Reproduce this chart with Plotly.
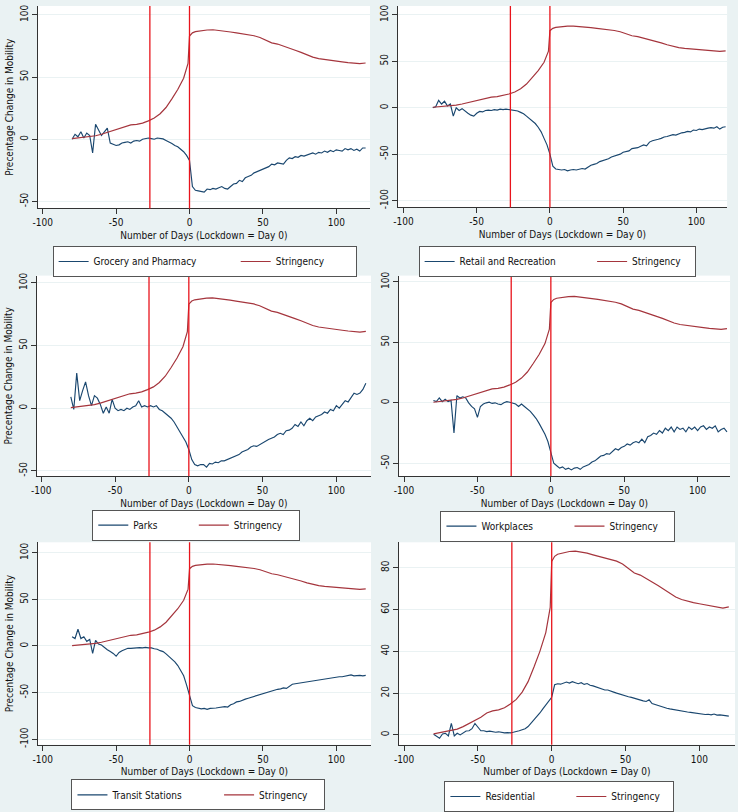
import plotly.graph_objects as go

# ---------------- data ----------------
days = list(range(-80, 121, 2))

grocery = [
    0, 4, 2, 6, 1, 5, 3, -11, 12, 7,
    3, 6, 9, -3, -4, -5, -4.5, -3, -2.5, -2,
    -3, -1.5, -1, -1.5, 0, 0.5, 1, 0.5, 0, 1,
    0.5, 0.3, -1, -2, -3.5, -5, -6, -8, -10, -13,
    -17, -38, -41, -41.5, -42, -42.5, -40, -40.5, -39.5, -40,
    -39, -38, -39.5, -40, -38, -36, -35.5, -33, -34, -31,
    -30, -29, -27, -26, -25.5, -24, -23, -22, -20, -20.5,
    -19, -19.5, -20, -17, -15, -15.5, -14, -14.5, -13, -13.5,
    -12.5, -12, -11, -12, -10.5, -11, -9.5, -10.5, -9, -10,
    -8.5, -9, -9.5, -7.5, -8.5, -7.5, -9, -8, -9.5, -7,
    -7,
]

retail = [
    0, 1, 8, 4, 7, 2, 4, -9, 0, -3,
    -1, -4, -6, -8, -9, -6, -4, -4.5, -3, -2.5,
    -3, -2, -2.5, -1.5, -2, -1.5, -2, -2, -2.5, -3.5,
    -5, -6.5, -9, -11.5, -14, -17, -21, -26, -33, -40,
    -50, -63, -66, -66.5, -67, -66.5, -68, -67, -66.5, -67,
    -66, -65.5, -66, -64, -62, -61, -60, -58, -57, -55.5,
    -55, -53, -52, -51, -50, -48, -47, -46.5, -44, -43.5,
    -43, -41.5, -40, -41, -37, -35.5, -35, -34, -33, -31.5,
    -31, -30, -29, -29.5, -28, -27, -26.5, -25.5, -26, -24,
    -24.5, -23, -23.5, -22.5, -22, -21.5, -22, -20.5, -23, -21,
    -20.5,
]

parks = [
    9, -1, 28, 6, 14, 21, 10, 2, 10, 8,
    3, -4, 1, -4, 7, 0, -2, -1, -2, 0,
    -1, 1, 2, 6, 1, 2, 1, 2, 1, 2,
    -1, -2, -4, -6, -8, -11, -15, -18, -23, -27,
    -33, -41, -45, -46, -45, -45, -47, -44, -44.5, -43,
    -43.5, -42, -42, -41, -40, -39, -38, -37, -35, -34,
    -33, -31, -30, -30.5, -29, -28, -26.5, -25, -24, -23,
    -21, -20, -21, -18, -17.5, -16, -13, -14.5, -11, -14,
    -10, -8, -10, -7, -6, -5, -3, -4, -1, -2,
    2, 0, 3, 6, 5, 9, 12, 11, 12, 15,
    20,
]

workplaces = [
    2, 1, 4, 1, 3, 1, 2, -25, 6, 4,
    5, 4, 0, -3, -5, -12, -3, -1, 0, 0.5,
    -0.5, 0, -1, -1.5, 0, 1, 0.5, 0, -1, -3,
    -1, -3, -5, -7, -10, -13, -17, -21, -26, -32,
    -40, -50, -52, -54, -53, -55, -54, -55.5, -54, -53.5,
    -55, -53, -52, -51, -49, -48, -46, -44, -43.5, -42,
    -42.5, -40, -38, -39, -37, -36, -34, -35, -33, -32,
    -33, -30, -33, -28, -27, -25, -26, -23, -25, -21,
    -23, -20, -24, -20, -22, -21, -24, -20, -22, -20,
    -23, -20, -19, -22, -20, -21, -19, -24, -22, -21,
    -24,
]

transit = [
    10, 8, 18, 8, 10, 5, 7, -8, 6, 2,
    1, -2, -4, -6, -8, -11, -7, -5, -3.5, -2.5,
    -2.5, -2, -2, -1.8, -2, -1.5, -2, -2, -3, -3.5,
    -5, -6, -8.5, -11, -14, -17, -21, -26, -32, -42,
    -53, -64, -66, -67, -67.5, -67, -68, -67, -67, -66.5,
    -66, -65.5, -65, -65.5, -63, -62, -60, -59.5, -58, -57,
    -56, -55, -54.5, -53, -52, -51, -50, -49.5, -48, -47,
    -46.5, -46, -45, -45.5, -43, -41, -40.5, -40, -39.5, -39,
    -38, -37.5, -37, -37, -36.5, -36, -35, -34.5, -34, -34,
    -33.5, -33, -33, -32.5, -32, -31, -32, -31.5, -31.5, -32,
    -31.5,
]

residential = [
    0.3, -0.5, -1.6, 0.5, 0.8, -0.5, 5.5, -0.5, 0.8, 0,
    1, 1.9, 2, 3, 5.5, 3.5, 2, 2, 1.6, 1.8,
    1.5, 1.3, 1.5, 1.2, 1, 1.1, 1, 1.3, 1.5, 2,
    2.5, 3, 4, 5.5, 7, 8.5, 10.5, 12.5, 14.5, 16.5,
    18, 24, 24.5, 24.3, 25, 25.3, 24.8, 25.5, 25, 24.5,
    25, 24.2, 24.6, 23.8, 23.5, 23, 22.5, 22.2, 21.5, 21.5,
    20.8, 20.5, 20, 19.5, 19.2, 18.8, 18.3, 18, 17.5, 17,
    16.8, 16.3, 16, 16.8, 15, 14.5, 14, 13.6, 13.2, 12.8,
    12.5, 12.2, 12, 11.8, 11.5, 11.3, 11, 10.8, 10.6, 10.3,
    10.2, 10, 9.8, 9.9, 9.6, 10, 9.5, 9.6, 9.4, 9.3,
    9,
]

stringency_days = [-80, -76, -72, -68, -64, -60, -56, -52, -48, -44, -40, -36, -32,
                   -28, -24, -20, -16, -12, -8, -4, -1, 0, 2, 4, 8, 12, 16, 20, 24,
                   28, 32, 36, 40, 44, 48, 52, 56, 60, 64, 68, 72, 76, 80, 84, 88,
                   92, 96, 100, 104, 108, 112, 116, 120]
stringency = [0.5, 1.0, 1.5, 2.0, 2.8, 4.0, 5.5, 7.0, 8.5, 10.5, 11.5, 12.0, 13.0,
              14.8, 17.0, 20.5, 25.5, 32.5, 40, 49, 61, 83, 85.5, 86.5, 87.3, 87.8,
              88.0, 87.6, 87.0, 86.2, 85.5, 84.8, 84.0, 83.2, 81.8, 79.5, 77.5,
              76.5, 75.0, 73.2, 71.5, 69.8, 67.8, 66.0, 64.8, 64.0, 63.3, 62.8,
              62.2, 61.6, 61.2, 60.7, 61.3]

event_days = [-27, 0]

x_tick_vals = [-100, -50, 0, 50, 100]
x_tick_text = ["-100", "-50", "0", "50", "100"]
y_ticks_150 = [-50, 0, 50, 100]
y_ticks_150_text = ["-50", "0", "50", "100"]
y_ticks_200 = [-100, -50, 0, 50, 100]
y_ticks_200_text = ["-100", "-50", "0", "50", "100"]
y_ticks_res = [0, 20, 40, 60, 80]
y_ticks_res_text = ["0", "20", "40", "60", "80"]

x_title = "Number of Days (Lockdown = Day 0)"
y_title = "Precentage Change in Mobility"
stringency_label = "Stringency"

# ---------------- styling / layout ----------------
W, H = 738, 812
FONT = "DejaVu Sans Condensed, Liberation Sans, Arial, sans-serif"
FS = 10
BG = "#eaf2f3"
NAVY = "#1a476f"
MAROON = "#a5353d"
RED = "#e8141c"
AXC = "#333333"
NB = "\u00a0"

panels = [
    dict(label="Grocery and Pharmacy", y=grocery, tv=y_ticks_150, tt=y_ticks_150_text, ytitle=True,
         px=(32, 367), py=(2, 207), xr=(-103.4, 123.0), yr=(-55.6, 107.1),
         leg=(47, 245), pad=(12, 9)),
    dict(label="Retail and Recreation", y=retail, tv=y_ticks_200, tt=y_ticks_200_text, ytitle=False,
         px=(395, 727), py=(2, 206), xr=(-103.9, 121.0), yr=(-107.4, 109.6),
         leg=(416, 245), pad=(11, 3)),
    dict(label="Parks", y=parks, tv=y_ticks_150, tt=y_ticks_150_text, ytitle=True,
         px=(31, 368), py=(275, 478), xr=(-103.1, 123.5), yr=(-54.2, 105.8),
         leg=(87, 512), pad=(11, 4)),
    dict(label="Workplaces", y=workplaces, tv=y_ticks_150, tt=y_ticks_150_text, ytitle=False,
         px=(396, 730), py=(275, 478), xr=(-103.6, 122.1), yr=(-60.6, 105.2),
         leg=(438, 513), pad=(11, 4)),
    dict(label="Transit Stations", y=transit, tv=y_ticks_200, tt=y_ticks_200_text, ytitle=True,
         px=(32, 368), py=(545, 750), xr=(-103.4, 123.6), yr=(-106.0, 111.3),
         leg=(66, 785), pad=(11, 4)),
    dict(label="Residential", y=residential, tv=y_ticks_res, tt=y_ticks_res_text, ytitle=False,
         px=(396, 735), py=(545, 750), xr=(-103.6, 124.2), yr=(-4.7, 92.2),
         leg=(442, 787), pad=(11, 3)),
]

fig = go.Figure()
layout = dict(
    width=W, height=H, margin=dict(l=0, r=0, t=0, b=0),
    paper_bgcolor=BG, plot_bgcolor="white",
    font=dict(family=FONT, size=FS, color="#111111"),
)

tfont = dict(family=FONT, size=FS, color="#111111")

for i, p in enumerate(panels):
    k = "" if i == 0 else str(i + 1)
    xa, ya = "x" + k, "y" + k
    leg = "legend" if i == 0 else "legend" + str(i + 1)
    pad1, pad2 = p["pad"]
    fig.add_trace(go.Scatter(x=days, y=p["y"], mode="lines", name=p["label"] + NB * pad1,
                             line=dict(color=NAVY, width=1.15), xaxis=xa, yaxis=ya,
                             legend=leg, hoverinfo="skip"))
    fig.add_trace(go.Scatter(x=stringency_days, y=stringency, mode="lines",
                             name=stringency_label + NB * pad2,
                             line=dict(color=MAROON, width=1.2), xaxis=xa, yaxis=ya,
                             legend=leg, hoverinfo="skip"))
    for d in event_days:
        fig.add_shape(type="line", x0=d, x1=d, y0=0, y1=1, xref=xa, yref=ya + " domain",
                      line=dict(color=RED, width=1.3), layer="above")

    px0, px1 = p["px"]
    py0, py1 = p["py"]
    layout["xaxis" + k] = dict(
        domain=[px0 / W, px1 / W], range=list(p["xr"]), anchor=ya,
        showline=True, linecolor=AXC, linewidth=1, mirror=False,
        ticks="outside", ticklen=5, tickcolor=AXC, tickwidth=1,
        tickvals=x_tick_vals, ticktext=x_tick_text, tickfont=tfont,
        showgrid=False, zeroline=False,
        title=dict(text=x_title, standoff=4, font=tfont),
    )
    layout["yaxis" + k] = dict(
        domain=[1 - py1 / H, 1 - py0 / H], range=list(p["yr"]), anchor=xa,
        showline=True, linecolor=AXC, linewidth=1,
        ticks="outside", ticklen=5, tickcolor=AXC, tickwidth=1,
        tickvals=p["tv"], ticktext=p["tt"], tickangle=-90, tickfont=tfont,
        showgrid=True, gridcolor=BG, gridwidth=1, zeroline=False,
        title=dict(text=y_title if p["ytitle"] else "", standoff=3, font=tfont),
    )
    lx, ltop = p["leg"]
    layout[leg] = dict(
        orientation="h", x=lx / W, xanchor="left", y=1 - ltop / H, yanchor="top",
        bgcolor="white", bordercolor="#555555", borderwidth=1,
        font=tfont, traceorder="normal", tracegroupgap=0,
        itemclick=False, itemdoubleclick=False,
    )

fig.update_layout(**layout)
fig.update_layout(showlegend=True)

fig.write_html(
    "out.html",
    config={"displayModeBar": False},
    post_script="document.body.style.margin='0';document.body.style.padding='0';"
                "document.body.style.overflow='hidden';",
)
